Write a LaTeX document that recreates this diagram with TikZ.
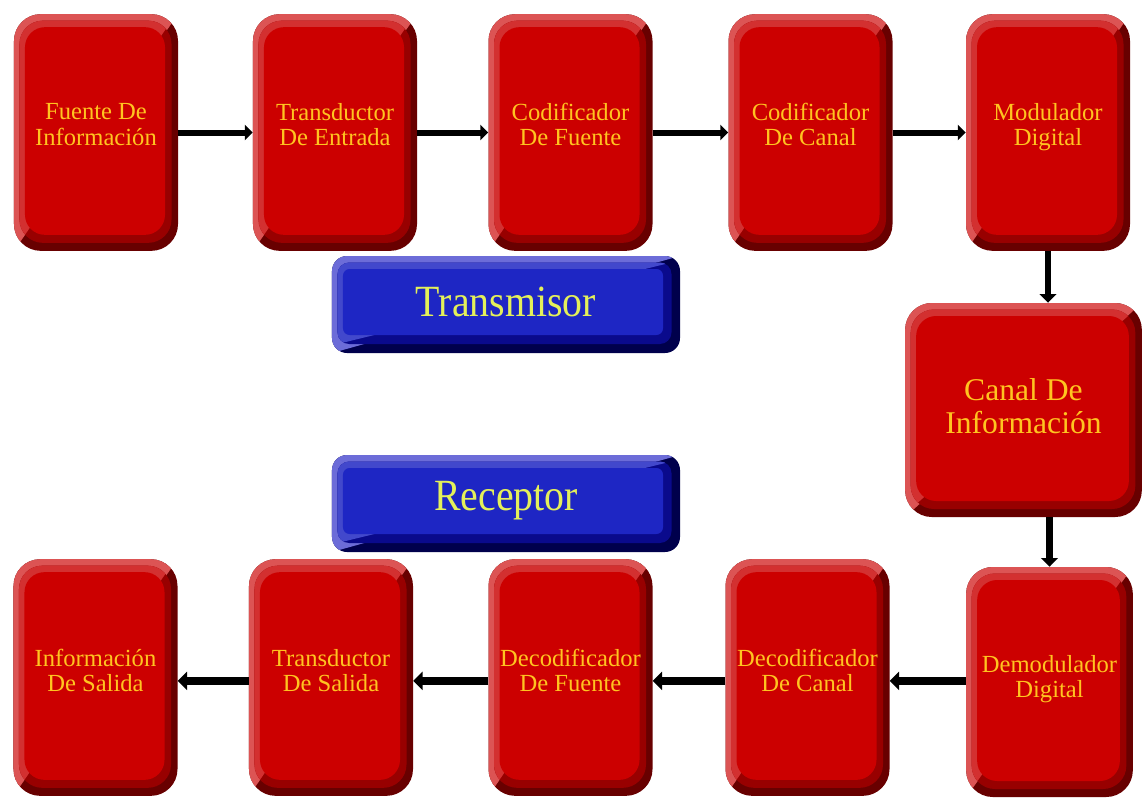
\documentclass[tikz,border=0pt]{standalone}
\usepackage{fontspec}
\setmainfont{Liberation Serif}
\usetikzlibrary{arrows.meta,calc}

\definecolor{redface}{HTML}{CC0000}
\definecolor{redlight}{HTML}{DC5454}
\definecolor{redmidlight}{HTML}{D33030}
\definecolor{redmiddark}{HTML}{980000}
\definecolor{reddark}{HTML}{680000}
\definecolor{blueface}{HTML}{1E26C4}
\definecolor{bluelight}{HTML}{6C6CD8}
\definecolor{bluemidlight}{HTML}{4248CC}
\definecolor{bluemiddark}{HTML}{0A0A8C}
\definecolor{bluedark}{HTML}{00004C}
\definecolor{goldtext}{HTML}{FFC420}
\definecolor{limetext}{HTML}{E4F05A}

% Bevel layers drawn inside a block:
% #1 outer light, #2 inner light, #3 inner dark, #4 face,
% #5 middle radius, #6 face radius, #7 right inset, #8 bottom inset
\newcommand\bevelfill[8]{%
  \fill[#1, sharp corners]
    (path picture bounding box.north west) --
    (path picture bounding box.north east) --
    (path picture bounding box.south west) -- cycle;
  \begin{scope}
    \clip[rounded corners=#5]
      ($(path picture bounding box.north west)+(5.5,6.5)$) rectangle
      ($(path picture bounding box.south east)+(-#7/2,-#8/2)$);
    \fill[#3, sharp corners] (path picture bounding box.north west) rectangle
      (path picture bounding box.south east);
    \fill[#2, sharp corners]
      ($(path picture bounding box.north west)+(5.5,6.5)$) --
      ($(path picture bounding box.north east)+(-#7/2,6.5)$) --
      ($(path picture bounding box.south west)+(5.5,-#8/2)$) -- cycle;
  \end{scope}
  \fill[#4, rounded corners=#6]
    ($(path picture bounding box.north west)+(11,13)$) rectangle
    ($(path picture bounding box.south east)+(-#7,-#8)$);
}

\tikzset{
  block/.style 2 args={shape=rectangle, inner sep=0pt, draw=none,
    minimum width=#1, minimum height=#2},
  redbevel/.style={rounded corners=8mm, fill=reddark,
    path picture={\bevelfill{redlight}{redmidlight}{redmiddark}{redface}{7mm}{6mm}{13}{16}}},
  redtall/.style={block={49.2mm}{71mm}, redbevel},
  redshort/.style={block={50mm}{69mm}, redbevel},
  redwide/.style={block={71mm}{64.2mm}, redbevel},
  bluebar/.style={block={104.4mm}{29.1mm}, rounded corners=4.5mm, fill=bluedark,
    path picture={\bevelfill{bluelight}{bluemidlight}{bluemiddark}{blueface}{3.5mm}{2mm}{17}{18}}},
  rtext/.style={text=goldtext, font=\fontsize{21}{21.5}\selectfont,
    align=center, inner sep=0pt},
  bigtext/.style={text=goldtext, font=\fontsize{27}{28}\selectfont,
    align=center, inner sep=0pt},
  bartext/.style={text=limetext, font=\fontsize{34}{36}\selectfont,
    inner sep=0pt},
  flow/.style={draw=black, line width=1.8mm,
    -{Triangle[length=2.4mm,width=4.6mm]}},
  flowthick/.style={draw=black, line width=2.4mm,
    -{Triangle[length=2.8mm,width=5.4mm]}},
  flowdown/.style={draw=black, line width=2mm,
    -{Triangle[length=2.6mm,width=5mm]}},
}

\begin{document}
\begin{tikzpicture}[x=0.03cm, y=-0.03cm]
  \useasboundingbox (0,0) rectangle (1144,803);
  \fill[white] (0,0) rectangle (1144,803);

  % transmitter chain
  \node[redtall] (src) at (96,132.5) {};
  \node[redtall] (tin) at (335,132.5) {};
  \node[redtall] (cfu) at (570.5,132.5) {};
  \node[redtall] (cca) at (810.5,132.5) {};
  \node[redtall] (mod) at (1048,132.5) {};

  \node[rtext] (srcT) at ($(src)+(0,-8)$) {Fuente De\\Información};
  \node[rtext] (tinT) at ($(tin)+(0,-8)$) {Transductor\\De Entrada};
  \node[rtext] (cfuT) at ($(cfu)+(0,-8)$) {Codificador\\De Fuente};
  \node[rtext] (ccaT) at ($(cca)+(0,-8)$) {Codificador\\De Canal};
  \node[rtext] (modT) at ($(mod)+(0,-5)$) {Modulador\\Digital};

  % channel
  \node[redwide] (chan) at (1023.5,410) {};
  \node[bigtext] (chanT) at ($(chan)+(0,-4)$) {Canal De\\Información};

  % receiver chain
  \node[redshort] (dem) at (1049.5,682) {};
  \node[redtall] (dca) at (807.5,677.5) {};
  \node[redtall] (dfu) at (570.5,677.5) {};
  \node[redtall] (tout) at (331,677.5) {};
  \node[redtall] (dst) at (95.5,677.5) {};

  \node[rtext] (demT) at ($(dem)+(0,-3)$) {Demodulador\\Digital};
  \node[rtext] (dcaT) at ($(dca)+(0,-7)$) {Decodificador\\De Canal};
  \node[rtext] (dfuT) at ($(dfu)+(0,-7)$) {Decodificador\\De Fuente};
  \node[rtext] (toutT) at ($(tout)+(0,-7)$) {Transductor\\De Salida};
  \node[rtext] (dstT) at ($(dst)+(0,-7)$) {Información\\De Salida};

  % section labels
  \node[bluebar] (tx) at (506,304.5) {};
  \node[bartext] (txT) at ($(tx)+(0,-3)$) {\scalebox{1}[1.12]{Transmisor}};
  \node[bluebar] (rx) at (506,503.5) {};
  \node[bartext] (rxT) at ($(rx)+(0,-3)$) {\scalebox{1}[1.12]{Receptor}};

  % connectors
  \draw[flow] (src) -- (tin);
  \draw[flow] (tin) -- (cfu);
  \draw[flow] (cfu) -- (cca);
  \draw[flow] (cca) -- (mod);
  \draw[flowdown] (mod.south) -- (mod.south |- chan.north);
  \draw[flowdown] (dem.north |- chan.south) -- (dem.north);
  \draw[flowthick] ([yshift=-1mm]dem.west |- dca.east) -- ([yshift=-1mm]dca.east);
  \draw[flowthick] ([yshift=-1mm]dca.west) -- ([yshift=-1mm]dfu.east);
  \draw[flowthick] ([yshift=-1mm]dfu.west) -- ([yshift=-1mm]tout.east);
  \draw[flowthick] ([yshift=-1mm]tout.west) -- ([yshift=-1mm]dst.east);
\end{tikzpicture}
\end{document}
